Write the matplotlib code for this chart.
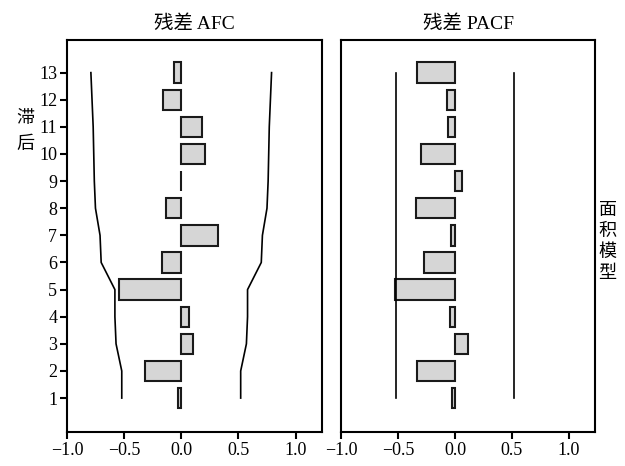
import matplotlib
matplotlib.use("Agg")
import matplotlib.pyplot as plt

plt.rcParams['font.family'] = ['Liberation Serif', 'Noto Sans CJK SC']
plt.rcParams['axes.unicode_minus'] = True

# residual ACF / PACF for the area model
lags = list(range(1, 14))
acf_vals = [-0.03, -0.32, 0.10, 0.07, -0.54, -0.17, 0.32, -0.13, 0.0, 0.21, 0.18, -0.16, -0.06]
acf_bound = [0.52, 0.52, 0.57, 0.58, 0.58, 0.70, 0.71, 0.75, 0.76, 0.765, 0.77, 0.78, 0.79]
pacf_vals = [-0.025, -0.33, 0.11, -0.045, -0.53, -0.27, -0.035, -0.34, 0.06, -0.30, -0.06, -0.07, -0.33]
pacf_bound = [0.52] * 13
x_ticks = [-1.0, -0.5, 0.0, 0.5, 1.0]
x_ticklabels = ["\u22121.0", "\u22120.5", "0.0", "0.5", "1.0"]

fig = plt.figure(figsize=(6.25, 4.66), dpi=100)
ax1 = fig.add_axes([0.107, 0.073, 0.408, 0.841])
ax2 = fig.add_axes([0.546, 0.073, 0.406, 0.841])

bar_kw = dict(height=0.75, color="#d6d6d6", edgecolor="#1a1a1a", linewidth=1.5)

ax1.barh(lags, acf_vals, **bar_kw)
ax1.plot(acf_bound, lags, color="black", lw=1.2)
ax1.plot([-b for b in acf_bound], lags, color="black", lw=1.2)

ax2.barh(lags, pacf_vals, **bar_kw)
ax2.plot(pacf_bound, lags, color="black", lw=1.2)
ax2.plot([-b for b in pacf_bound], lags, color="black", lw=1.2)

for ax, title in [(ax1, "残差 AFC"), (ax2, "残差 PACF")]:
    ax.set_xlim(-1.0, 1.23)
    ax.set_ylim(-0.25, 14.2)
    ax.set_xticks(x_ticks)
    ax.set_xticklabels(x_ticklabels, fontsize=13)
    ax.tick_params(axis="x", direction="out", length=5, width=1.5, pad=2)
    for s in ax.spines.values():
        s.set_linewidth(1.5)
    ax.set_title(title, fontsize=14, pad=8)

ax1.set_yticks(lags)
ax1.set_yticklabels([str(l) for l in lags], fontsize=13)
ax1.tick_params(axis="y", direction="out", length=5, width=1.5, pad=2)
ax2.set_yticks([])

# stacked vertical labels, one character per line
cjk = ['Noto Sans CJK SC']
fig.text(0.04, 0.719, "滞\n后", fontsize=13, family=cjk, ha="center", va="center",
         linespacing=1.6)
fig.text(0.972, 0.482, "面\n积\n模\n型", fontsize=13, family=cjk, ha="center", va="center",
         linespacing=1.2)

fig.savefig("out.png", dpi=100)
